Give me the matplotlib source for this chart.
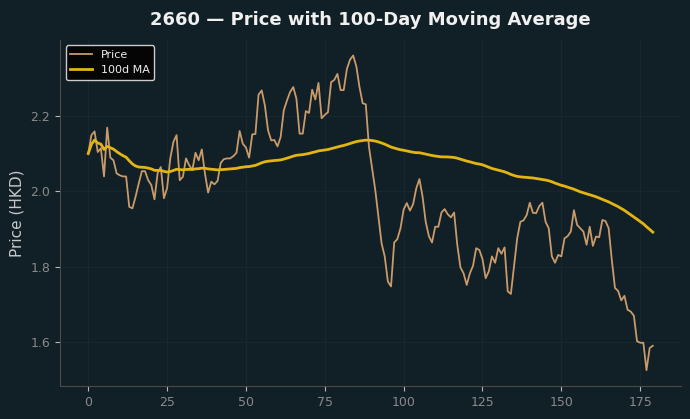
import matplotlib
matplotlib.use("Agg")
import matplotlib.pyplot as plt
import numpy as np
import pandas as pd

title = "2660 \u2014 Price with 100-Day Moving Average"
ylabel = "Price (HKD)"
ma_window = 100

price = [
    2.101, 2.150, 2.160, 2.105, 2.115, 2.040, 2.170, 2.090, 2.083, 2.048,
    2.043, 2.040, 2.040, 1.959, 1.955, 1.986, 2.021, 2.054, 2.054, 2.030,
    2.017, 1.979, 2.049, 2.065, 1.982, 2.009, 2.088, 2.132, 2.150, 2.030,
    2.039, 2.088, 2.070, 2.057, 2.103, 2.083, 2.112, 2.048, 1.997, 2.026,
    2.019, 2.028, 2.076, 2.086, 2.088, 2.088, 2.094, 2.103, 2.161, 2.127,
    2.117, 2.090, 2.152, 2.153, 2.258, 2.269, 2.229, 2.163, 2.136, 2.137,
    2.120, 2.145, 2.216, 2.242, 2.265, 2.278, 2.247, 2.154, 2.154, 2.214,
    2.209, 2.271, 2.245, 2.289, 2.195, 2.204, 2.211, 2.291, 2.297, 2.313,
    2.270, 2.270, 2.326, 2.351, 2.362, 2.333, 2.278, 2.235, 2.232, 2.119,
    2.061, 2.004, 1.933, 1.862, 1.827, 1.760, 1.747, 1.864, 1.873, 1.902,
    1.952, 1.969, 1.949, 1.966, 2.008, 2.033, 1.986, 1.919, 1.881, 1.864,
    1.906, 1.906, 1.944, 1.953, 1.939, 1.931, 1.944, 1.858, 1.798, 1.782,
    1.751, 1.782, 1.802, 1.849, 1.844, 1.820, 1.769, 1.787, 1.827, 1.810,
    1.849, 1.834, 1.851, 1.734, 1.727, 1.800, 1.875, 1.919, 1.923, 1.937,
    1.970, 1.943, 1.942, 1.961, 1.970, 1.919, 1.902, 1.827, 1.810, 1.831,
    1.827, 1.875, 1.881, 1.893, 1.950, 1.911, 1.902, 1.893, 1.858, 1.906,
    1.855, 1.880, 1.878, 1.924, 1.921, 1.902, 1.818, 1.743, 1.735, 1.710,
    1.722, 1.685, 1.680, 1.669, 1.601, 1.597, 1.597, 1.524, 1.583, 1.589,
]

s = pd.Series(price)
ma = s.rolling(ma_window, min_periods=1).mean()
x = np.arange(len(price))

bg = "#111f26"
fig = plt.figure(figsize=(6.9, 4.19), dpi=100, facecolor=bg)
ax = fig.add_axes([0.087, 0.079, 0.900, 0.826])
ax.set_facecolor(bg)

ax.plot(x, s, color="#c99b6a", lw=1.3, label="Price")
ax.plot(x, ma, color="#e2b514", lw=2.0, label="100d MA")

ax.grid(True, color="#18262d", lw=0.8)
ax.set_axisbelow(True)
for sp in ["top", "right"]:
    ax.spines[sp].set_visible(False)
for sp in ["left", "bottom"]:
    ax.spines[sp].set_color("#4a4a4a")
ax.tick_params(colors="#8a8a8a", labelsize=9)
ax.tick_params(axis="both", color="#bbbbbb", length=3.5)
ax.set_yticks([1.6, 1.8, 2.0, 2.2])
ax.set_xticks([0, 25, 50, 75, 100, 125, 150, 175])

ax.set_ylabel(ylabel, color="#c8c8c8", fontsize=11)
ax.set_title(title, color="#f0f0f0", fontsize=13, fontweight="bold", pad=11)

leg = ax.legend(loc="upper left", fontsize=8, facecolor="#050505",
                edgecolor="#cccccc", framealpha=1.0)
for t in leg.get_texts():
    t.set_color("#eeeeee")

fig.savefig("out.png", dpi=100, facecolor=bg)
